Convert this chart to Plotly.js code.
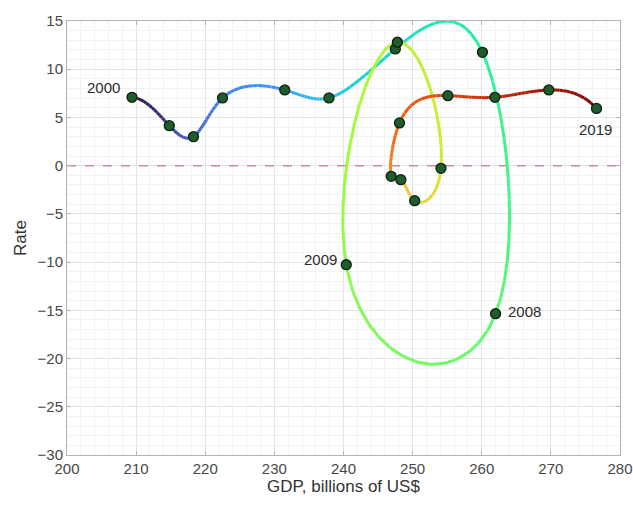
<!DOCTYPE html>
<html>
<head>
<meta charset="utf-8">
<script src="https://cdn.plot.ly/plotly-3.0.1.min.js"></script>
<style>html,body{margin:0;padding:0;background:#fff}#chart{width:633px;height:506px}</style>
</head>
<body>
<div id="chart"></div>
<script>
// Data
const years = [2000,2001,2002,2003,2004,2005,2006,2007,2008,2009,2010,2011,2012,2013,2014,2015,2016,2017,2018,2019];
const gdp   = [209.4,214.8,218.3,222.5,231.5,237.9,247.5,260.1,262.0,240.4,247.8,254.1,250.3,248.3,246.9,248.1,255.1,261.9,269.7,276.6];
const rate  = [7.09,4.15,3.01,7.02,7.85,7.02,12.1,11.75,-15.35,-10.27,12.8,-0.28,-3.63,-1.45,-1.11,4.43,7.26,7.09,7.85,5.94];
const labeledYears = [2000,2008,2009,2019];

// Turbo-like colormap stops (style)
const turbo = ['#30123b','#4145ab','#4675ed','#39a2fc','#1bcfd4','#24eca6','#61fc6c','#a4fc3b','#d1e834','#f3c63a','#fe9b2d','#f36315','#d93806','#b11901','#7a0403'];
function hex2rgb(h){return [parseInt(h.substr(1,2),16),parseInt(h.substr(3,2),16),parseInt(h.substr(5,2),16)];}
function cmap(f){
  f=Math.max(0,Math.min(1,f));
  const p=f*(turbo.length-1), i=Math.min(Math.floor(p),turbo.length-2), r=p-i;
  const a=hex2rgb(turbo[i]), b=hex2rgb(turbo[i+1]);
  return 'rgb('+a.map((v,k)=>Math.round(v+(b[k]-v)*r)).join(',')+')';
}

// Smooth parametric spline through the data points (connecting curve)
function solve(A,b){
  const n=b.length;
  for(let c=0;c<n;c++){
    let p=c; for(let r=c+1;r<n;r++) if(Math.abs(A[r][c])>Math.abs(A[p][c])) p=r;
    [A[c],A[p]]=[A[p],A[c]]; [b[c],b[p]]=[b[p],b[c]];
    for(let r=c+1;r<n;r++){const f=A[r][c]/A[c][c]; for(let k=c;k<n;k++) A[r][k]-=f*A[c][k]; b[r]-=f*b[c];}
  }
  const x=new Array(n).fill(0);
  for(let r=n-1;r>=0;r--){let s=b[r]; for(let k=r+1;k<n;k++) s-=A[r][k]*x[k]; x[r]=s/A[r][r];}
  return x;
}
function splineM(t,y){
  const n=y.length, A=[], b=[];
  for(let i=0;i<n;i++){A.push(new Array(n).fill(0)); b.push(0);}
  const h=[]; for(let i=0;i<n-1;i++) h.push(t[i+1]-t[i]);
  A[0][0]=1/h[0];A[0][1]=-1/h[0]-1/h[1];A[0][2]=1/h[1];
  A[n-1][n-3]=1/h[n-3];A[n-1][n-2]=-1/h[n-3]-1/h[n-2];A[n-1][n-1]=1/h[n-2];
  for(let i=1;i<n-1;i++){A[i][i-1]=h[i-1];A[i][i]=2*(h[i-1]+h[i]);A[i][i+1]=h[i];b[i]=6*((y[i+1]-y[i])/h[i]-(y[i]-y[i-1])/h[i-1]);}
  return solve(A,b);
}
function evalS(t,y,M,i,u){
  const h=t[i+1]-t[i], v=1-u;
  return v*y[i]+u*y[i+1]+h*h*((v*v*v-v)*M[i]+(u*u*u-u)*M[i+1])/6;
}
const knots=[0];
for(let i=1;i<gdp.length;i++){
  const d=Math.hypot(gdp[i]-gdp[i-1],0.5*(rate[i]-rate[i-1]));
  knots.push(knots[i-1]+Math.sqrt(d));
}
const Mx=splineM(knots,gdp), My=splineM(knots,rate);

const traces=[];
traces.push({x:[200,280],y:[0,0],mode:'lines',line:{color:'rgba(205,120,140,0.85)',width:1.5,dash:'dash'},hoverinfo:'skip',showlegend:false});

const N=years.length-1, chunks=14, sub=8;
for(let i=0;i<N;i++){
  for(let c=0;c<chunks;c++){
    const xs=[],ys=[];
    for(let s=0;s<=sub;s++){
      const u=(c+s/sub)/chunks;
      xs.push(evalS(knots,gdp,Mx,i,u)); ys.push(evalS(knots,rate,My,i,u));
    }
    traces.push({x:xs,y:ys,mode:'lines',line:{color:cmap((i+(c+0.5)/chunks)/N),width:3},hoverinfo:'skip',showlegend:false});
  }
}
traces.push({x:gdp,y:rate,mode:'markers',marker:{size:10,color:'#1f5b2b',line:{color:'#0c200f',width:1.3}},hoverinfo:'skip',showlegend:false});

const labelFont={family:'Liberation Sans, Arial',size:15,color:'#2b2b2b'};
const labelOffsets={2000:['right',-10,10],2008:['left',10,2],2009:['right',-7,5],2019:['center',-1,-21]};
const annotations=labeledYears.map(yr=>{
  const k=years.indexOf(yr), o=labelOffsets[yr];
  return {x:gdp[k],y:rate[k],text:String(yr),showarrow:false,xanchor:o[0],yanchor:'middle',xshift:o[1],yshift:o[2],font:labelFont};
});

const axisCommon={
  showline:true,mirror:'ticks',linecolor:'#b3b3b3',linewidth:1,
  ticks:'inside',ticklen:4,tickcolor:'#b3b3b3',
  showgrid:true,gridcolor:'#e4e4e4',gridwidth:1,zeroline:false,
  tickfont:{family:'Liberation Sans, Arial',size:15,color:'#474747'}
};
const layout={
  width:633,height:506,
  margin:{l:67,r:13,t:21,b:51},
  paper_bgcolor:'#fff',plot_bgcolor:'#fff',
  showlegend:false,hovermode:false,annotations:annotations,
  xaxis:Object.assign({},axisCommon,{range:[200,280],dtick:10,tick0:200,
    minor:{dtick:2,showgrid:true,gridcolor:'#f2f2f2',gridwidth:1},
    title:{text:'GDP, billions of US$',font:{family:'Liberation Sans, Arial',size:17,color:'#333'},standoff:4}}),
  yaxis:Object.assign({},axisCommon,{range:[-30,15],dtick:5,tick0:-30,
    minor:{dtick:1,showgrid:true,gridcolor:'#f2f2f2',gridwidth:1},
    title:{text:'Rate',font:{family:'Liberation Sans, Arial',size:17,color:'#333'},standoff:6}})
};
Plotly.newPlot('chart',traces,layout,{displayModeBar:false,staticPlot:true});
</script>
</body>
</html>
